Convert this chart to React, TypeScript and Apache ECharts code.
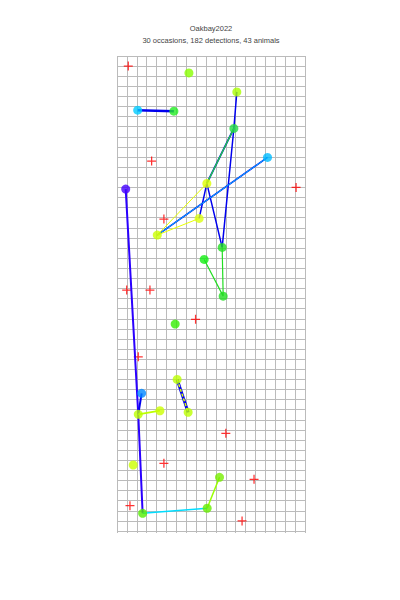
import React, { useEffect, useRef } from "react";
import * as echarts from "echarts";

const titleText = "Oakbay2022";
const subtitleText = "30 occasions, 182 detections, 43 animals";

// axis extents (grid cells)
const xMax = 19;
const yMax = 47;

// trap locations
const traps: number[][] = [
  [1.14, 46.0],
  [3.5, 36.6],
  [18.1, 34.0],
  [4.74, 30.86],
  [0.98, 23.84],
  [3.33, 23.84],
  [7.94, 20.94],
  [2.15, 17.24],
  [11.0, 9.66],
  [4.74, 6.7],
  [13.85, 5.11],
  [1.31, 2.5],
  [12.64, 0.99],
];

// detections
const detections: number[][] = [
  [7.27, 45.33],
  [2.09, 41.64],
  [5.75, 41.54],
  [12.11, 43.45],
  [11.81, 39.83],
  [15.21, 36.96],
  [9.08, 34.39],
  [8.3, 30.93],
  [4.07, 29.28],
  [0.88, 33.83],
  [10.63, 28.06],
  [8.81, 26.87],
  [10.73, 23.24],
  [5.88, 20.47],
  [6.08, 15.0],
  [7.19, 11.74],
  [2.49, 13.62],
  [2.15, 11.54],
  [4.34, 11.9],
  [1.64, 6.53],
  [2.59, 1.75],
  [9.11, 2.25],
  [10.36, 5.31],
];

const detectionColors: string[] = [
  "#88ff00",
  "#00ccff",
  "#22ee22",
  "#aaff00",
  "#22dd44",
  "#00bbff",
  "#ddff00",
  "#ddff11",
  "#ccff00",
  "#4400ff",
  "#22dd22",
  "#11ee11",
  "#22dd22",
  "#33ee00",
  "#bbff00",
  "#bbff00",
  "#0088ff",
  "#bbff00",
  "#ccff00",
  "#ccff00",
  "#55ee00",
  "#66ee00",
  "#77ee00",
];

// movement tracks (indexes into detections)
const tracks: number[][] = [
  [1, 2],
  [3, 4, 10],
  [7, 6, 10],
  [4, 6],
  [4, 6],
  [8, 5],
  [8, 5],
  [6, 8, 7],
  [10, 12, 11],
  [9, 17, 20],
  [16, 17],
  [17, 18],
  [14, 15],
  [14, 15],
  [20, 21],
  [21, 22],
];

const trackColors: string[] = [
  "#0000ee",
  "#0000ee",
  "#0000ee",
  "#0000ee",
  "#22dd33",
  "#0000ee",
  "#00bbff",
  "#e6ff00",
  "#22dd22",
  "#2a00ff",
  "#0000ee",
  "#bbff00",
  "#0000ee",
  "#ddff00",
  "#00ddff",
  "#99ff00",
];
const trackWidths: number[] = [2.5, 1.5, 1.5, 1.8, 1.2, 1.6, 1, 1, 1.2, 2, 2, 1.8, 3, 1.5, 1.5, 1.5];
const trackDashed: boolean[] = [false, false, false, false, false, false, false, false, false, false, false, false, false, true, false, false];

const font = "'Liberation Sans', Arial, sans-serif";

export default function App() {
  const ref = useRef<HTMLDivElement>(null);
  useEffect(() => {
    const chart = echarts.init(ref.current!, null, { renderer: "svg" });
    const lineSeries = tracks.map((t, i) => ({
      type: "line",
      data: t.map((k) => detections[k]),
      symbol: "none",
      silent: true,
      z: 2,
      lineStyle: {
        color: trackColors[i],
        width: trackWidths[i],
        type: trackDashed[i] ? [3, 2] : "solid",
      },
    }));
    const option: any = {
      animation: false,
      backgroundColor: "#ffffff",
      graphic: [
        {
          type: "text",
          x: 211,
          y: 28,
          style: {
            text: titleText,
            align: "center",
            verticalAlign: "middle",
            fontSize: 7.5,
            fontFamily: font,
            fill: "#444",
          },
        },
        {
          type: "text",
          x: 211,
          y: 40,
          style: {
            text: subtitleText,
            align: "center",
            verticalAlign: "middle",
            fontSize: 7.5,
            fontFamily: font,
            fill: "#444",
          },
        },
      ],
      grid: { left: 117, top: 56, width: 188, height: 475, containLabel: false },
      xAxis: {
        type: "value",
        min: 0,
        max: xMax,
        interval: 1,
        axisLabel: { show: false },
        axisLine: { show: false },
        axisTick: { show: true, length: 2, lineStyle: { color: "#bbbbbb" } },
        splitLine: { show: true, lineStyle: { color: "#bbbbbb", width: 1 } },
      },
      yAxis: {
        type: "value",
        min: 0,
        max: yMax,
        interval: 1,
        axisLabel: { show: false },
        axisLine: { show: false },
        axisTick: { show: false },
        splitLine: { show: true, lineStyle: { color: "#bbbbbb", width: 1 } },
      },
      series: [
        {
          type: "scatter",
          data: traps,
          symbol: "path://M4.3,0H5.7V4.3H10V5.7H5.7V10H4.3V5.7H0V4.3H4.3Z",
          symbolSize: 9,
          itemStyle: { color: "#ff0000" },
          silent: true,
          z: 1,
        },
        ...lineSeries,
        {
          type: "scatter",
          data: detections.map((d, i) => ({ value: d, itemStyle: { color: detectionColors[i] } })),
          symbol: "circle",
          symbolSize: 9,
          silent: true,
          z: 3,
        },
      ],
    };
    chart.setOption(option);
    return () => chart.dispose();
  }, []);
  return <div ref={ref} style={{ position: "fixed", left: 0, top: 0, width: 400, height: 600 }} />;
}
